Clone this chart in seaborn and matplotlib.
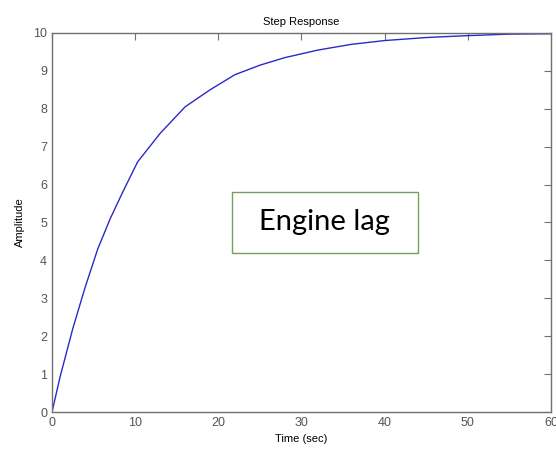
import numpy as np
import pandas as pd
import seaborn as sns
import matplotlib.pyplot as plt
from matplotlib.patches import Rectangle

# step response
t = [0, 1, 2.5, 4, 5.5, 7, 8.5, 10.3, 13, 16, 19, 22, 25, 28, 32, 36, 40, 45, 50, 55, 60]
amp = [0, 0.95, 2.2, 3.3, 4.3, 5.1, 5.8, 6.6, 7.35, 8.05, 8.5, 8.9, 9.15, 9.35, 9.55, 9.7, 9.8, 9.88, 9.93, 9.97, 9.98]
xticks = [0, 10, 20, 30, 40, 50, 60]
yticks = list(range(0, 11))

df = pd.DataFrame({"t": t, "amp": amp})

sns.set_style("white")
plt.rcParams['font.family'] = ['Liberation Sans', 'DejaVu Sans']

fig = plt.figure(figsize=(5.56, 4.58), dpi=100)
ax = fig.add_axes([0.0935, 0.1004, 0.8975, 0.8276])
sns.lineplot(data=df, x="t", y="amp", ax=ax, color="#2a2ac8", linewidth=1.0)

ax.set_xlim(0, 60)
ax.set_ylim(0, 10)
ax.set_xticks(xticks)
ax.set_yticks(yticks)
ax.tick_params(direction="in", length=5, width=0.8, colors="#707070", labelsize=9,
               top=True, right=True, labelcolor="#555555")
for s in ax.spines.values():
    s.set_color("#707070")
    s.set_linewidth(1.0)

ax.set_title("Step Response", fontsize=8, pad=6, color="black")
ax.set_xlabel("Time (sec)", fontsize=8, labelpad=4, color="black")
ax.set_ylabel("Amplitude", fontsize=8, labelpad=6, color="black")

# callout box
ax.add_patch(Rectangle((21.6, 4.2), 22.4, 1.6, fc="white", ec="#77a060", lw=1.0, zorder=3))
ax.text(32.8, 5.02, "Engine lag", fontsize=21, ha="center", va="center",
        family=["Lato", "DejaVu Sans"], color="black", zorder=4)

fig.savefig("out.png", dpi=100)
